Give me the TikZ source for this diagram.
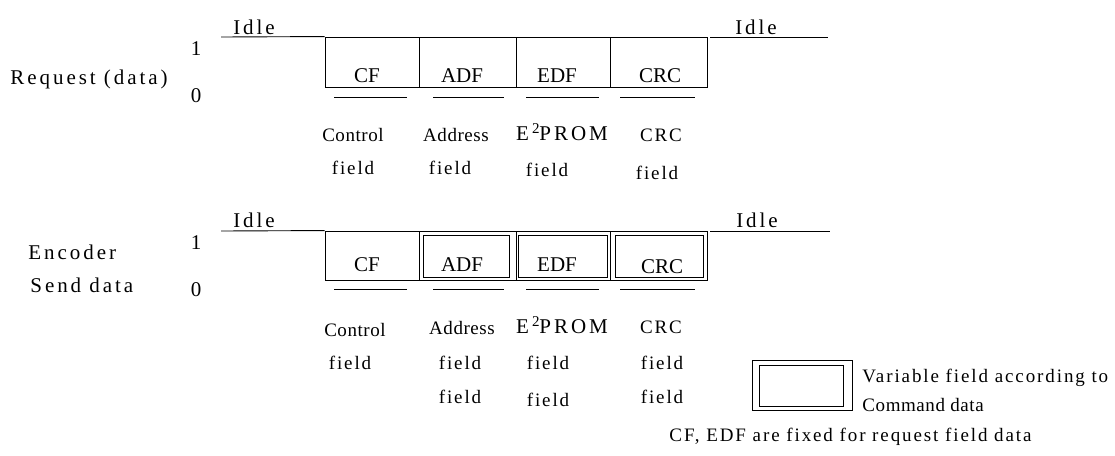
\documentclass[tikz,border=0pt]{standalone}
\usepackage{fontspec}
\setmainfont{Liberation Serif}
\newfontfamily\wide[LetterSpace=14]{Liberation Serif}
\newfontfamily\midwide[LetterSpace=10]{Liberation Serif}
\newfontfamily\tight[LetterSpace=3]{Liberation Serif}
\newcommand{\eeprom}{E\hspace{3pt}\raisebox{7pt}{\fontsize{15}{17}\selectfont 2}PROM}

\begin{document}
\begin{tikzpicture}[x=1pt,y=-1pt,line width=0.9pt,
  cell/.style={draw,minimum width=#1,minimum height=50pt,inner sep=0pt},
  inner/.style={draw,minimum width=#1,minimum height=42pt,inner sep=0pt},
  big/.style={inner sep=0pt,font=\wide\fontsize{21}{23}\selectfont},
  mid/.style={inner sep=0pt,font=\midwide\fontsize{19}{21}\selectfont},
  cond/.style={inner sep=0pt,font=\tight\fontsize{19}{21}\selectfont},
  tag/.style={inner sep=0pt,font=\fontsize{21}{23}\selectfont},
  bar/.style={line width=0.9pt}]
\useasboundingbox (0,0) rectangle (1115,455);

% ---------------- request frame ----------------
\node[big,anchor=west] (reqname) at (10,79) {Request (data)};
\node[big] (one1) at (196,49) {1};
\node[big] (zero1) at (196,96) {0};
\node[big] (idle1l) at (254,27) {Idle};
\node[big] (idle1r) at (756,27) {Idle};
\coordinate (i1a) at (221,37);
\coordinate (i1b) at (710,37);
\coordinate (i1c) at (828,37);

\node[cell=94pt] (cf1) at (372,62) {};
\node[cell=97pt] (adf1) at (467.5,62) {};
\node[cell=94pt] (edf1) at (563,62) {};
\node[cell=97pt] (crc1) at (658.5,62) {};
\draw (i1a) -- (cf1.north west);
\draw (i1b) -- (i1c);

\node[tag] (cft1) at (367,76) {CF};
\node[tag] (adft1) at (462,76) {ADF};
\node[tag] (edft1) at (557,76) {EDF};
\node[tag] (crct1) at (660,76) {CRC};

\draw[bar] (334,97) -- (407,97);
\draw[bar] (433,97) -- (504,97);
\draw[bar] (526,97) -- (599,97);
\draw[bar] (620,97) -- (695,97);

\node[cond] (ctl1) at (353,135) {Control};
\node[mid] (ctl1b) at (353,168) {field};
\node[cond] (adr1) at (456,135) {Address};
\node[mid] (adr1b) at (450,168) {field};
\node[big] (ep1) at (562,132) {\eeprom};
\node[mid] (ep1b) at (547,170) {field};
\node[mid] (crcn1) at (661,135) {CRC};
\node[mid] (crcn1b) at (657,173) {field};

% ---------------- encoder frame ----------------
\node[big,anchor=west] (encname) at (28,252) {Encoder};
\node[big,anchor=west] (sendname) at (30,285) {Send data};
\node[big] (one2) at (196,243) {1};
\node[big] (zero2) at (196,290) {0};
\node[big] (idle2l) at (254,220) {Idle};
\node[big] (idle2r) at (757,220) {Idle};
\coordinate (i2a) at (221,231);
\coordinate (i2b) at (710,231);
\coordinate (i2c) at (830,231);

\node[cell=94pt,minimum height=49pt] (cf2) at (372,255.5) {};
\node[cell=97pt,minimum height=49pt] (adf2) at (467.5,255.5) {};
\node[cell=94pt,minimum height=49pt] (edf2) at (563,255.5) {};
\node[cell=97pt,minimum height=49pt] (crc2) at (658.5,255.5) {};
\node[inner=86pt] (adf2i) at (466,256) {};
\node[inner=89pt] (edf2i) at (562.5,256) {};
\node[inner=88pt] (crc2i) at (659,256) {};
\draw (i2a) -- (cf2.north west);
\draw (i2b) -- (i2c);

\node[tag] (cft2) at (367,265) {CF};
\node[tag] (adft2) at (462,265) {ADF};
\node[tag] (edft2) at (557,265) {EDF};
\node[tag] (crct2) at (662,267) {CRC};

\draw[bar] (334,289) -- (407,289);
\draw[bar] (433,289) -- (504,289);
\draw[bar] (526,289) -- (599,289);
\draw[bar] (620,289) -- (695,289);

\node[cond] (ctl2) at (355,330) {Control};
\node[mid] (ctl2b) at (350,363) {field};
\node[cond] (adr2) at (462,328) {Address};
\node[mid] (adr2b) at (460,363) {field};
\node[mid] (adr2c) at (460,397) {field};
\node[big] (ep2) at (562,325) {\eeprom};
\node[mid] (ep2b) at (548,363) {field};
\node[mid] (ep2c) at (548,400) {field};
\node[mid] (crcn2) at (661,327) {CRC};
\node[mid] (crcn2b) at (662,363) {field};
\node[mid] (crcn2c) at (662,397) {field};

% ---------------- legend ----------------
\node[draw,minimum width=100pt,minimum height=50pt,inner sep=0pt] (keyo) at (802,385) {};
\node[draw,minimum width=84pt,minimum height=41pt,inner sep=0pt] (keyi) at (801,385.5) {};
\node[mid,anchor=west] (keyt1) at (862,378) {Variable field according to};
\node[cond,anchor=west] (keyt2) at (862,405) {Command data};
\node[mid,anchor=west] (note) at (669,437) {CF, EDF are fixed for request field data};
\end{tikzpicture}
\end{document}
